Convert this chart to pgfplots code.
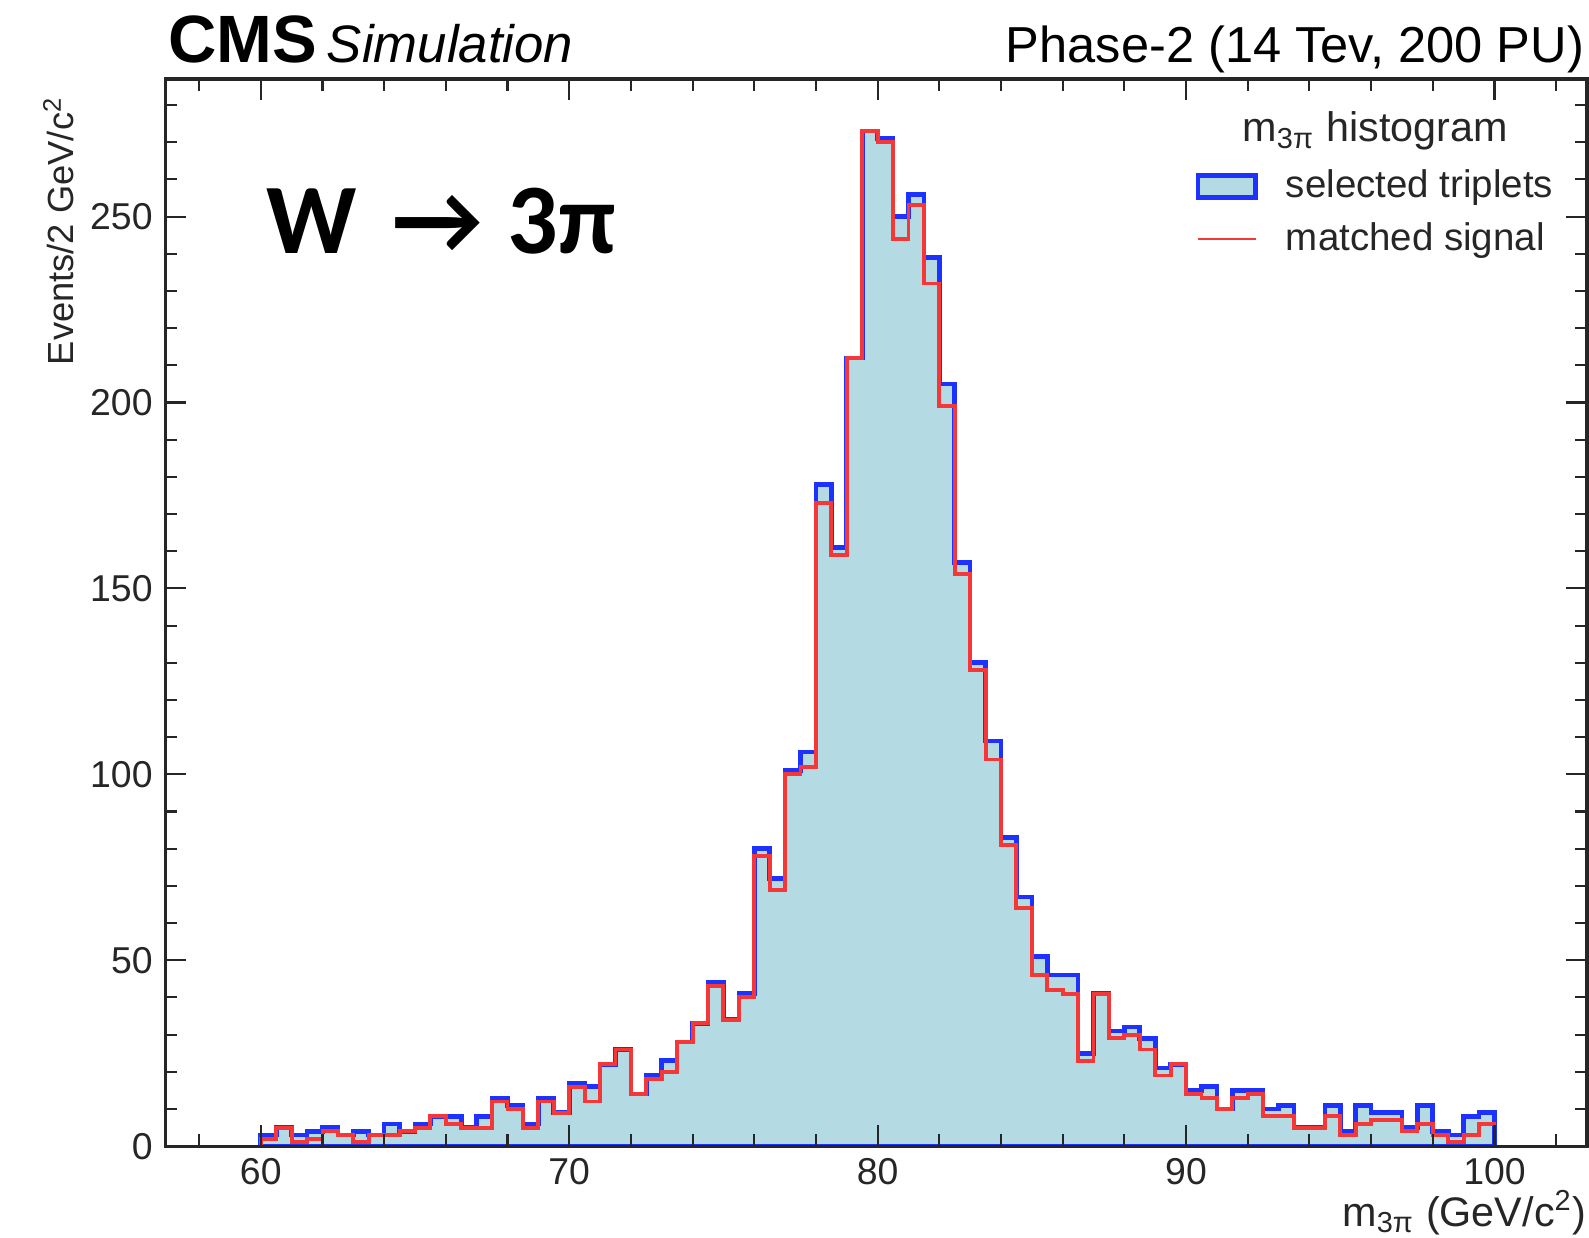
\documentclass[border=0pt]{standalone}
\usepackage{pgfplots}
\pgfplotsset{compat=1.18}
\usepackage{pgfplotstable}
\usepackage{fontspec}
\setmainfont{Liberation Sans}
\newfontfamily\calib{Carlito}

\definecolor{hfill}{RGB}{180,218,228}
\definecolor{hblue}{RGB}{30,50,255}
\definecolor{hred}{RGB}{245,55,55}

\pgfplotsset{
    boxlegend/.style={legend image code/.code={\draw[##1] (0cm,-0.11cm) rectangle (0.57cm,0.11cm);}},
    linelegend/.style={legend image code/.code={\draw[##1, line width=0.7pt] (0cm,0cm) -- (0.57cm,0cm);}},
}

% m_3pi histogram, 0.5 GeV bins, lower bin edges; first/last rows close the outline
\pgfplotstableread{
x sel sig
60 0 0
60 3 2
60.5 5 5
61 3 1
61.5 4 2
62 5 4
62.5 3 3
63 4 1
63.5 3 3
64 6 3
64.5 4 4
65 6 5
65.5 8 8
66 8 6
66.5 5 5
67 8 5
67.5 13 12
68 11 10
68.5 6 5
69 13 12
69.5 9 9
70 17 16
70.5 16 12
71 22 22
71.5 26 26
72 14 14
72.5 19 18
73 23 20
73.5 28 28
74 33 33
74.5 44 43
75 34 34
75.5 41 40
76 80 78
76.5 72 69
77 101 100
77.5 106 102
78 178 173
78.5 161 159
79 212 212
79.5 273 273
80 271 270
80.5 250 244
81 256 253
81.5 239 232
82 205 199
82.5 157 154
83 130 128
83.5 109 104
84 83 81
84.5 67 64
85 51 46
85.5 46 42
86 46 41
86.5 25 23
87 41 41
87.5 31 29
88 32 30
88.5 29 26
89 21 19
89.5 22 22
90 15 14
90.5 16 13
91 10 10
91.5 15 13
92 15 14
92.5 10 8
93 11 8
93.5 5 5
94 5 5
94.5 11 8
95 4 3
95.5 11 6
96 9 7
96.5 9 7
97 5 4
97.5 11 6
98 4 3
98.5 3 1
99 8 3
99.5 9 6
100 0 0
}\mthree

\begin{document}
\begin{tikzpicture}
\begin{axis}[
    name=ax,
    at={(0,0)}, anchor=south west,
    scale only axis,
    width=14.03cm, height=10.53cm,
    xmin=56.9, xmax=103, ymin=0, ymax=287,
    clip mode=individual,
    axis on top,
    axis line style={line width=0.9pt, black!85},
    tick style={line width=0.6pt, black!85},
    tick align=inside,
    xtick pos=both, ytick pos=both,
    xtick={60,70,80,90,100},
    minor xtick={58,62,64,66,68,72,74,76,78,82,84,86,88,92,94,96,98,102},
    ytick={0,50,100,150,200,250},
    minor ytick={10,20,...,280},
    major tick length=0.21cm, minor tick length=0.12cm,
    tick label style={font=\fontsize{10.5}{12}\selectfont, black!85},
    /pgf/number format/assume math mode=true,
    xlabel={m\textsubscript{3π} (GeV/c\textsuperscript{2})},
    xlabel style={at={(axis description cs:1,-0.075)}, anchor=base east,
        inner sep=0pt, font=\fontsize{11.6}{13}\selectfont, black!85},
    ylabel={Events/2 GeV/c\textsuperscript{2}},
    ylabel style={at={(axis description cs:-0.075,0.984)}, anchor=east,
        inner sep=0pt, font=\fontsize{10.2}{12}\selectfont, black!85},
    legend style={at={(axis description cs:0.7243,0.919)}, anchor=north west,
        draw=none, fill=none, inner sep=0pt, row sep=0.12cm,
        nodes={inner sep=1pt}, font=\fontsize{10.8}{12}\selectfont,
        text=black!85,
        /tikz/every odd column/.append style={column sep=0.24cm}},
    legend cell align=left,
]
\addplot[const plot, draw=hblue, line width=1.3pt, fill=hfill, boxlegend]
    table[x=x, y=sel]{\mthree} \closedcycle;
\addlegendentry{selected triplets}
\addplot[const plot, draw=hred, line width=1.1pt, linelegend]
    table[x=x, y=sig]{\mthree};
\addlegendentry{matched signal}

\node[anchor=center, font=\fontsize{11.6}{13}\selectfont, text=black!85]
    at (axis description cs:0.851,0.951) {m\textsubscript{3π} histogram};
\node[anchor=base west, inner sep=0pt, font=\calib\bfseries\fontsize{28}{30}\selectfont]
    at (axis description cs:0.0706,0.8367) {W\hspace{0.35cm}→\hspace{0.25cm}3π};
\node[anchor=base west, inner sep=0pt]
    at (axis description cs:0.0015,1.0152)
    {\fontsize{18.8}{20}\selectfont\bfseries CMS\hspace{0.1cm}\fontsize{14.8}{16}\mdseries\itshape Simulation};
\node[anchor=base east, inner sep=0pt, font=\fontsize{14.2}{16}\selectfont]
    at (axis description cs:0.9985,1.0152) {Phase-2 (14 Tev, 200 PU)};
\end{axis}
\pgfresetboundingbox
\path[use as bounding box] ([shift={(-1.63cm,-0.90cm)}]ax.south west)
    rectangle ([shift={(0.02cm,0.78cm)}]ax.north east);
\end{tikzpicture}
\end{document}
